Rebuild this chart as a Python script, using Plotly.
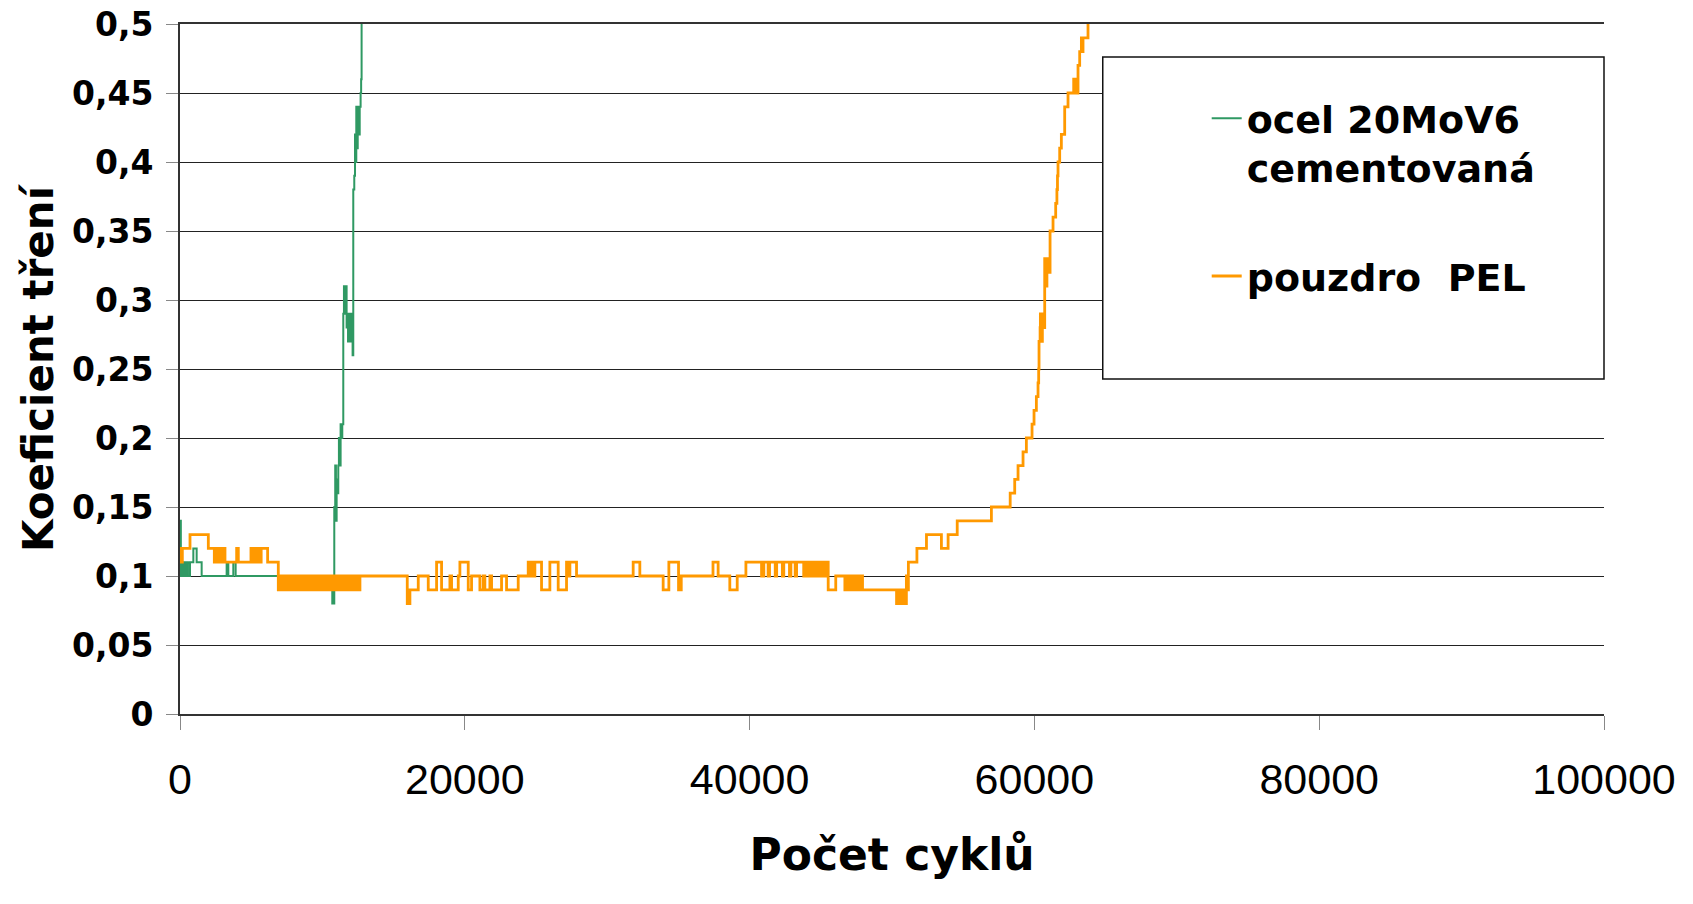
import plotly.graph_objects as go

# cycle counts (x) and friction coefficient (y), step data
green_x = [0, 60, 117, 200, 304, 390, 468, 560, 702, 936, 1170, 1521, 3276, 3393, 3744, 3908,
           9945, 10694, 10834, 10900, 10951, 11000, 11050, 11115, 11160, 11220, 11279, 11330,
           11396, 11466, 11513, 11580, 11653, 11700, 11747, 11800, 11860, 11920, 11980, 12051,
           12121, 12168, 12238, 12290, 12332, 12380, 12430, 12480, 12519, 12570, 12620, 12683,
           12720, 12753]
green_y = [0.14, 0.10, 0.11, 0.10, 0.11, 0.10, 0.11, 0.10, 0.11, 0.12, 0.11, 0.10, 0.11, 0.10, 0.11, 0.10,
           0.09, 0.08, 0.15, 0.18, 0.14, 0.17, 0.16, 0.18, 0.20, 0.18, 0.21, 0.20,
           0.21, 0.29, 0.31, 0.29, 0.31, 0.28, 0.29, 0.27, 0.29, 0.27, 0.29, 0.27,
           0.26, 0.38, 0.39, 0.42, 0.40, 0.44, 0.41, 0.43, 0.44, 0.42, 0.44, 0.45,
           0.46, 0.50]

orange_x = [0, 50, 100, 164, 702, 1989, 2410, 2520, 2640, 2760, 2880, 3000, 3159, 3978, 4095,
            4984, 5100, 5220, 5340, 5460, 5580, 5700, 6154,
            6903, 7040, 7180, 7330, 7470, 7610, 7760, 7900, 8040, 8190, 8330, 8470, 8620, 8760,
            8900, 9050, 9190, 9330, 9480, 9620, 9760, 9910, 10050, 10190, 10340, 10480, 10620,
            10770, 10910, 11050, 11200, 11340, 11480, 11630, 11770, 11910, 12060, 12200, 12340,
            12490, 12560, 12636,
            15959, 16146, 16731, 17433, 18018, 18369, 18954, 19071, 19539, 19656, 20241, 20475,
            21060, 21294, 21410, 21762, 21880, 22581, 22932, 23751, 24453, 24570, 24690, 24800,
            24920, 25389, 25974, 26559, 27144, 27260, 27380, 27846, 31824, 32292, 33930, 34330,
            35010, 35200, 37430, 37790, 38610, 39130, 39740, 40840, 41000, 41300, 41400, 41800,
            41900, 42300, 42400, 42800, 42900, 43200, 43300, 43650,
            43800, 43950, 44100, 44250, 44400, 44550, 44700, 44850, 45000, 45150, 45300, 45400,
            45520, 46050, 46690, 46840, 46990, 47140, 47290, 47440, 47590, 47740, 47930,
            50320, 50470, 50620, 50770, 50900, 51010, 51080, 51150, 51750, 52420, 53470, 53940,
            54580, 56980, 58300, 58617, 58851, 59202, 59436, 59834, 59974, 60138, 60255, 60300,
            60325, 60400, 60420, 60480, 60560, 60640, 60723, 60800, 60880, 60957, 61100, 61308,
            61495, 61580, 61620, 61659, 61776, 61893, 62127, 62361, 62759, 62830, 62900, 62980,
            63063, 63180, 63300, 63360, 63414, 63765]
orange_y = [0.11, 0.12, 0.11, 0.12, 0.13, 0.12, 0.11, 0.12, 0.11, 0.12, 0.11, 0.12, 0.11, 0.12, 0.11,
            0.12, 0.11, 0.12, 0.11, 0.12, 0.11, 0.12, 0.11,
            0.09, 0.10, 0.09, 0.10, 0.09, 0.10, 0.09, 0.10, 0.09, 0.10, 0.09, 0.10, 0.09, 0.10,
            0.09, 0.10, 0.09, 0.10, 0.09, 0.10, 0.09, 0.10, 0.09, 0.10, 0.09, 0.10, 0.09,
            0.10, 0.09, 0.10, 0.09, 0.10, 0.09, 0.10, 0.09, 0.10, 0.09, 0.10, 0.09,
            0.10, 0.09, 0.10,
            0.08, 0.09, 0.10, 0.09, 0.11, 0.09, 0.10, 0.09, 0.10, 0.11, 0.09, 0.10,
            0.09, 0.10, 0.09, 0.10, 0.09, 0.10, 0.09, 0.10, 0.11, 0.10, 0.11, 0.10,
            0.11, 0.09, 0.11, 0.09, 0.11, 0.10, 0.11, 0.10, 0.11, 0.10, 0.09, 0.11,
            0.09, 0.10, 0.11, 0.10, 0.09, 0.10, 0.11, 0.10, 0.11, 0.10, 0.11, 0.10,
            0.11, 0.10, 0.11, 0.10, 0.11, 0.10, 0.11, 0.11,
            0.10, 0.11, 0.10, 0.11, 0.10, 0.11, 0.10, 0.11, 0.10, 0.11, 0.10, 0.11,
            0.09, 0.10, 0.09, 0.10, 0.09, 0.10, 0.09, 0.10, 0.09, 0.10, 0.09,
            0.08, 0.09, 0.08, 0.09, 0.08, 0.10, 0.09, 0.11, 0.12, 0.13, 0.12, 0.13,
            0.14, 0.15, 0.16, 0.17, 0.18, 0.19, 0.20, 0.21, 0.22, 0.23, 0.24, 0.25,
            0.27, 0.28, 0.29, 0.27, 0.29, 0.28, 0.33, 0.31, 0.33, 0.32, 0.35, 0.36,
            0.37, 0.38, 0.39, 0.40, 0.41, 0.42, 0.44, 0.45, 0.46, 0.45, 0.46, 0.45,
            0.47, 0.48, 0.49, 0.48, 0.49, 0.50]

x_ticks = [0, 20000, 40000, 60000, 80000, 100000]
y_ticks = [0, 0.05, 0.1, 0.15, 0.2, 0.25, 0.3, 0.35, 0.4, 0.45, 0.5]

BOLD = "DejaVu Sans"

fig = go.Figure()
fig.add_trace(go.Scatter(
    x=green_x, y=green_y, mode="lines", line_shape="hv",
    name="ocel 20MoV6<br>cementovaná", legendgroup="a",
    line=dict(color="#2f9963", width=2),
))
fig.add_trace(go.Scatter(
    x=orange_x, y=orange_y, mode="lines", line_shape="hv",
    name="pouzdro  PEL", legendgroup="b",
    line=dict(color="#FF9900", width=2.8),
))

# white legend box covering the grid
fig.add_shape(type="rect", xref="paper", yref="paper",
              x0=0.648, x1=1.0, y0=0.4855, y1=0.952,
              line=dict(color="#111", width=1.5), fillcolor="white", layer="above")

# page body adds an 8px offset, so margins are shifted by that much
fig.update_layout(
    width=1693, height=904,
    margin=dict(l=172, r=97, t=16, b=198),
    paper_bgcolor="white", plot_bgcolor="white",
    separators=", ",
    showlegend=True,
    legend=dict(
        x=0.721, xanchor="left", y=0.9087, yanchor="top",
        bgcolor="rgba(0,0,0,0)", borderwidth=0,
        font=dict(family=BOLD, size=38, color="black", weight="bold"),
        valign="top", tracegroupgap=56,
    ),
    xaxis=dict(
        range=[0, 100000], tickvals=x_ticks, tickformat="d", automargin=False,
        showgrid=False, zeroline=False,
        showline=True, linecolor="#333", linewidth=2, mirror=True,
        ticks="outside", ticklen=14, tickcolor="#888", tickwidth=1,
        ticklabelstandoff=12, ticklabeloverflow="allow",
        tickfont=dict(family="Liberation Sans", size=43, color="black"),
        title=dict(text="Počet cyklů", standoff=38,
                   font=dict(family=BOLD, size=44, color="black", weight="bold")),
    ),
    yaxis=dict(
        range=[0, 0.5], tickvals=y_ticks, automargin=False,
        showgrid=True, gridcolor="#222", gridwidth=1, zeroline=False,
        showline=True, linecolor="#333", linewidth=2,
        ticks="outside", ticklen=12, tickcolor="#888", tickwidth=1,
        ticklabelstandoff=6, ticklabeloverflow="allow",
        tickfont=dict(family=BOLD, size=33, color="black", weight="bold"),
        title=dict(text="Koeficient tření", standoff=5,
                   font=dict(family=BOLD, size=42, color="black", weight="bold")),
    ),
)

fig.write_html("out.html")
